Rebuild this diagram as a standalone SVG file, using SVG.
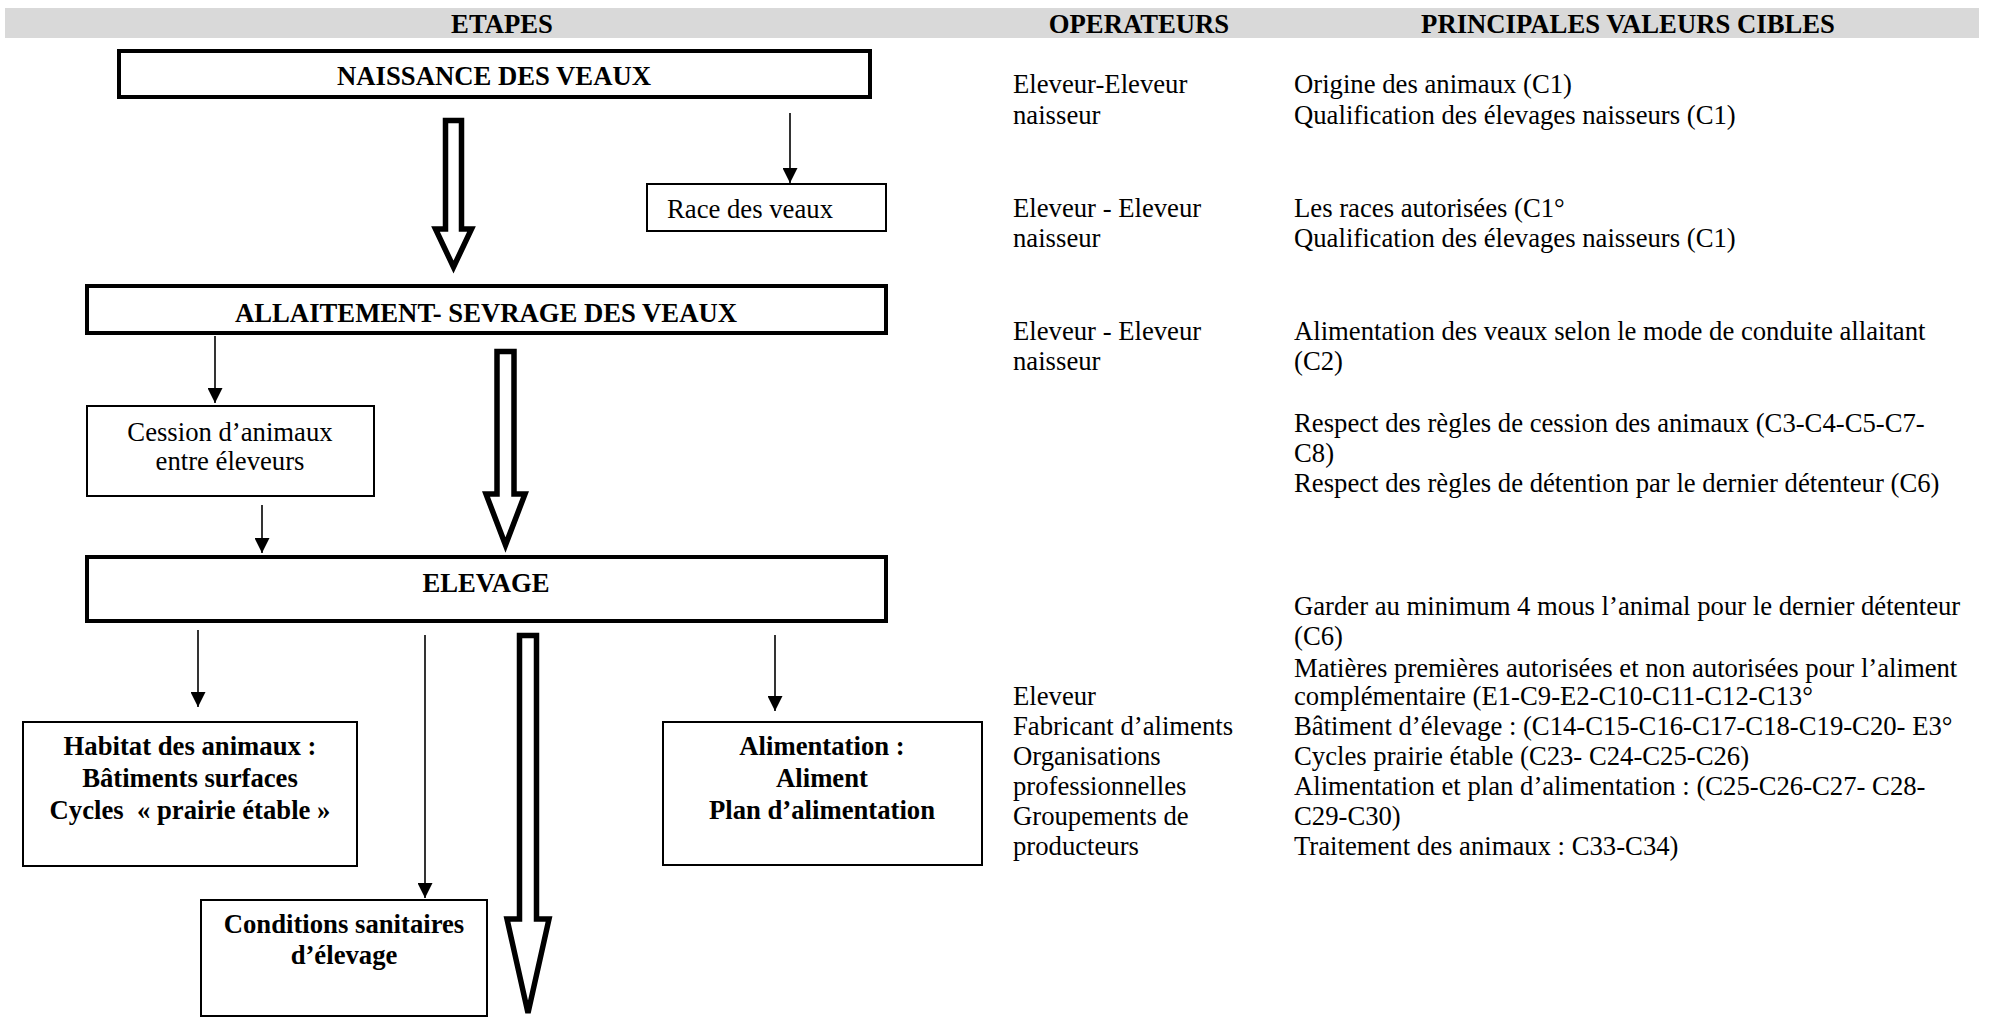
<svg xmlns="http://www.w3.org/2000/svg" width="1992" height="1021" viewBox="0 0 1992 1021">
<style>
text{font-family:"Liberation Serif","Times New Roman",serif;font-size:26.7px;fill:#000}
.b{font-weight:bold}
.c{text-anchor:middle}
.thick{fill:#fff;stroke:#000;stroke-width:4}
.thin{fill:#fff;stroke:#000;stroke-width:2}
.big{fill:#fff;stroke:#000;stroke-width:5.5;stroke-linejoin:miter}
.ln{stroke:#000;stroke-width:1.6;fill:none;marker-end:url(#ah)}
</style>
<defs>
<marker id="ah" viewBox="0 0 10 10" refX="10" refY="5" markerWidth="15" markerHeight="15" markerUnits="userSpaceOnUse" orient="auto">
<path d="M0,0 L10,5 L0,10 z" fill="#000"/>
</marker>
</defs>
<rect width="1992" height="1021" fill="#fff"/>
<g id="header">
<rect x="5" y="8" width="1974" height="30" fill="#d9d9d9"/>
<text class="b c" x="502" y="33">ETAPES</text>
<text class="b c" x="1139" y="33">OPERATEURS</text>
<text class="b c" x="1628" y="33">PRINCIPALES VALEURS CIBLES</text>
</g>
<g id="connectors">
<polygon class="big" points="445.5,120.5 461.5,120.5 461.5,229 471.5,229 453.5,267 435.5,229 445.5,229"/>
<polygon class="big" points="497,351.5 514,351.5 514,494 525,494 505.5,545 486,494 497,494"/>
<polygon class="big" points="519.5,635.5 536.5,635.5 536.5,919 549,919 528,1013 507,919 519.5,919"/>
<line class="ln" x1="790" y1="113" x2="790" y2="183"/>
<line class="ln" x1="215" y1="336" x2="215" y2="403"/>
<line class="ln" x1="262" y1="505" x2="262" y2="553"/>
<line class="ln" x1="198" y1="630" x2="198" y2="707"/>
<line class="ln" x1="425" y1="635" x2="425" y2="898"/>
<line class="ln" x1="775" y1="635" x2="775" y2="711"/>
</g>
<g id="naissance">
<rect class="thick" x="119" y="51" width="751" height="46"/>
<text class="b c" x="494" y="85">NAISSANCE DES VEAUX</text>
</g>
<g id="race">
<rect class="thin" x="647" y="184" width="239" height="47"/>
<text x="667" y="218">Race des veaux</text>
</g>
<g id="allaitement">
<rect class="thick" x="87" y="286" width="799" height="47"/>
<text class="b c" x="486" y="322">ALLAITEMENT- SEVRAGE DES VEAUX</text>
</g>
<g id="cession">
<rect class="thin" x="87" y="406" width="287" height="90"/>
<text class="c" x="230" y="441">Cession d’animaux</text>
<text class="c" x="230" y="470">entre éleveurs</text>
</g>
<g id="elevage">
<rect class="thick" x="87" y="557" width="799" height="64"/>
<text class="b c" x="486" y="592">ELEVAGE</text>
</g>
<g id="habitat">
<rect class="thin" x="23" y="722" width="334" height="144"/>
<text class="b c" x="190" y="755">Habitat des animaux :</text>
<text class="b c" x="190" y="787">Bâtiments surfaces</text>
<text class="b c" x="190" y="819">Cycles&#160; « prairie étable »</text>
</g>
<g id="alimentation">
<rect class="thin" x="663" y="722" width="319" height="143"/>
<text class="b c" x="822" y="755">Alimentation :</text>
<text class="b c" x="822" y="787">Aliment</text>
<text class="b c" x="822" y="819">Plan d’alimentation</text>
</g>
<g id="conditions">
<rect class="thin" x="201" y="900" width="286" height="116"/>
<text class="b c" x="344" y="933">Conditions sanitaires</text>
<text class="b c" x="344" y="964">d’élevage</text>
</g>
<g id="operateurs">
<text x="1013" y="93">Eleveur-Eleveur</text>
<text x="1013" y="124">naisseur</text>
<text x="1013" y="217">Eleveur - Eleveur</text>
<text x="1013" y="247">naisseur</text>
<text x="1013" y="340">Eleveur - Eleveur</text>
<text x="1013" y="370">naisseur</text>
<text x="1013" y="705">Eleveur</text>
<text x="1013" y="735">Fabricant d’aliments</text>
<text x="1013" y="765">Organisations</text>
<text x="1013" y="795">professionnelles</text>
<text x="1013" y="825">Groupements de</text>
<text x="1013" y="855">producteurs</text>
</g>
<g id="valeurs">
<text x="1294" y="93">Origine des animaux (C1)</text>
<text x="1294" y="124">Qualification des élevages naisseurs (C1)</text>
<text x="1294" y="217">Les races autorisées (C1°</text>
<text x="1294" y="247">Qualification des élevages naisseurs (C1)</text>
<text x="1294" y="340">Alimentation des veaux selon le mode de conduite allaitant</text>
<text x="1294" y="370">(C2)</text>
<text x="1294" y="432">Respect des règles de cession des animaux (C3-C4-C5-C7-</text>
<text x="1294" y="462">C8)</text>
<text x="1294" y="492">Respect des règles de détention par le dernier détenteur (C6)</text>
<text x="1294" y="615">Garder au minimum 4 mous l’animal pour le dernier détenteur</text>
<text x="1294" y="645">(C6)</text>
<text x="1294" y="677">Matières premières autorisées et non autorisées pour l’aliment</text>
<text x="1294" y="705">complémentaire (E1-C9-E2-C10-C11-C12-C13°</text>
<text x="1294" y="735">Bâtiment d’élevage : (C14-C15-C16-C17-C18-C19-C20- E3°</text>
<text x="1294" y="765">Cycles prairie étable (C23- C24-C25-C26)</text>
<text x="1294" y="795">Alimentation et plan d’alimentation : (C25-C26-C27- C28-</text>
<text x="1294" y="825">C29-C30)</text>
<text x="1294" y="855">Traitement des animaux : C33-C34)</text>
</g>
</svg>
